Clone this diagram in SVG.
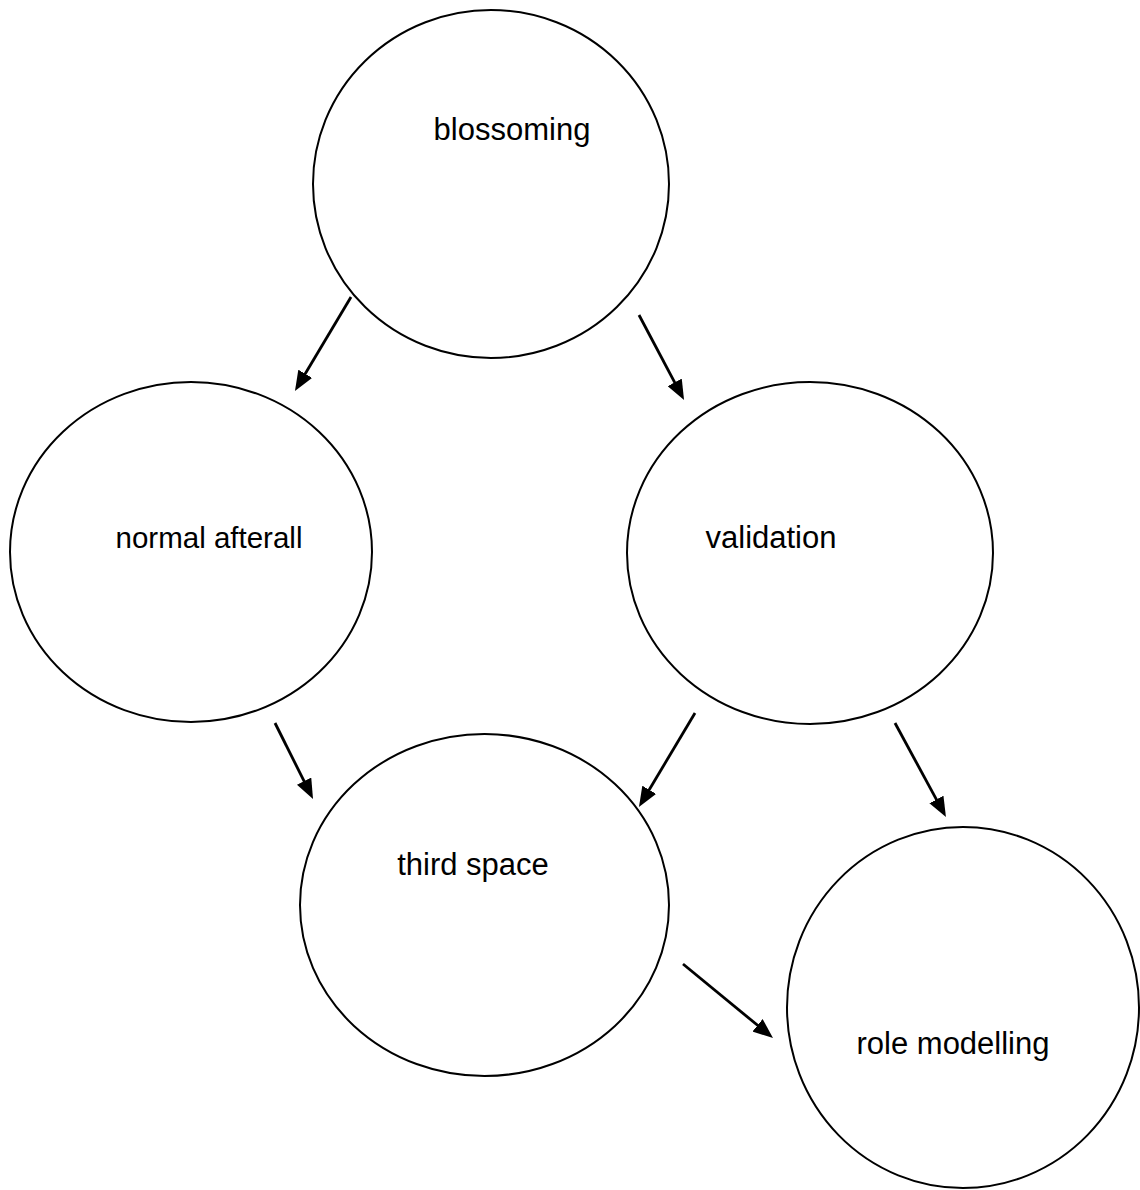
<svg xmlns="http://www.w3.org/2000/svg" width="1140" height="1190" viewBox="0 0 1140 1190">
<style>
.node ellipse{fill:#fff;stroke:#000;stroke-width:2}
.node text{font-family:"Liberation Sans",Arial,sans-serif;font-size:31px;fill:#000;text-anchor:middle}
.edge{stroke:#000;stroke-width:2.8;fill:none;marker-end:url(#ah)}
</style>
<defs>
<marker id="ah" markerUnits="userSpaceOnUse" markerWidth="20" markerHeight="16" refX="9" refY="8" orient="auto">
<path d="M0,0 L20,8 L0,16 z" fill="#000"/>
</marker>
</defs>
<rect width="1140" height="1190" fill="#fff"/>
<g id="blossoming" class="node">
<ellipse cx="491" cy="184" rx="178" ry="174"/>
<text x="512" y="140">blossoming</text>
</g>
<g id="normal-afterall" class="node">
<ellipse cx="191" cy="552" rx="181" ry="170"/>
<text x="209" y="548" style="font-size:29.5px">normal afterall</text>
</g>
<g id="validation" class="node">
<ellipse cx="810" cy="553" rx="183" ry="171"/>
<text x="771" y="548">validation</text>
</g>
<g id="third-space" class="node">
<ellipse cx="484.5" cy="905" rx="184.5" ry="171"/>
<text x="473" y="875">third space</text>
</g>
<g id="role-modelling" class="node">
<ellipse cx="963" cy="1007.5" rx="176" ry="180.5"/>
<text x="953" y="1054">role modelling</text>
</g>
<g id="connectors">
<line class="edge" x1="351" y1="297" x2="300.6" y2="381.5"/>
<line class="edge" x1="639" y1="315" x2="678.9" y2="390.3"/>
<line class="edge" x1="275" y1="723" x2="308.1" y2="789.2"/>
<line class="edge" x1="695" y1="713" x2="644.6" y2="797.5"/>
<line class="edge" x1="895" y1="723" x2="940.7" y2="807.4"/>
<line class="edge" x1="683" y1="964" x2="764.5" y2="1031"/>
</g>
</svg>
